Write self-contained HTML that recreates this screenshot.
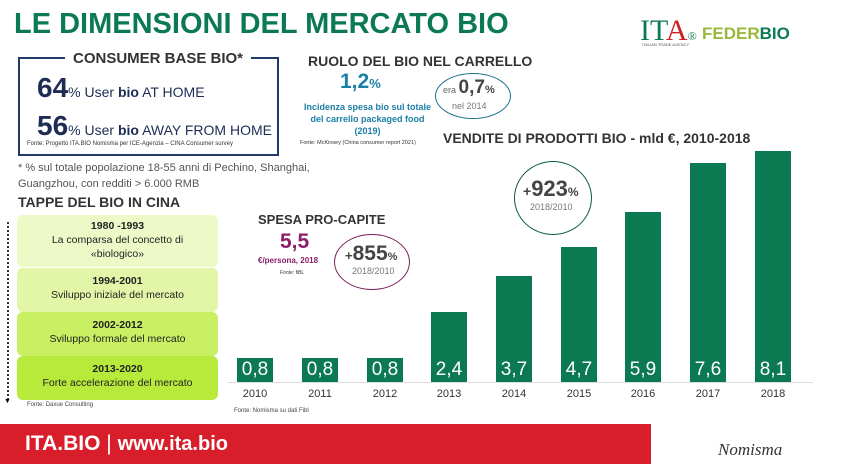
<!DOCTYPE html>
<html><head><meta charset="utf-8"><style>
body{margin:0;width:850px;height:469px;background:#fff;position:relative;overflow:hidden;font-family:"Liberation Sans",sans-serif}
.a{position:absolute;white-space:nowrap}
.bar{position:absolute;background:#0b7a52;width:36px;color:#fff;font-size:19px;text-align:center}
.bar div{position:absolute;bottom:0;width:36px;line-height:24px}
.yr{position:absolute;top:388px;width:36px;text-align:center;font-size:11px;color:#333}
.tb{position:absolute;left:17px;width:201px;border-radius:6px;text-align:center;font-size:10.5px;color:#222;line-height:14px}
</style></head><body>
<div class="a" style="left:14px;top:8px;font-size:29px;font-weight:bold;color:#0b7a52">LE DIMENSIONI DEL MERCATO BIO</div>
<div class="a" style="left:640px;top:14px;font-family:'Liberation Serif';font-size:30px;color:#0b7a52">IT<span style="color:#c22">A</span><span style="font-size:12px">®</span></div>
<div class="a" style="left:642px;top:42px;font-size:4px;color:#555">ITALIAN TRADE AGENCY</div>
<div class="a" style="left:702px;top:24px;font-size:17px;font-weight:bold;color:#9ab83a">FEDER<span style="color:#0b7a52">BIO</span></div>
<div class="a" style="left:18px;top:57px;width:257px;height:95px;border:2px solid #223a6a;"></div>
<div class="a" style="left:65px;top:50px;background:#fff;padding:0 8px;font-size:15px;font-weight:bold;color:#333">CONSUMER BASE BIO*</div>
<div class="a" style="left:37px;top:72px;color:#1f2d55;font-size:14px"><b style="font-size:28px">64</b>% User <b>bio</b> AT HOME</div>
<div class="a" style="left:37px;top:110px;color:#1f2d55;font-size:14px"><b style="font-size:28px">56</b>% User <b>bio</b> AWAY FROM HOME</div>
<div class="a" style="left:27px;top:141px;font-size:6px;color:#333">Fonte: Progetto ITA.BIO Nomisma per ICE-Agenzia – CINA Consumer survey</div>
<div class="a" style="left:18px;top:160px;font-size:11px;color:#555;line-height:16px">* % sul totale popolazione 18-55 anni di Pechino, Shanghai,<br>Guangzhou, con redditi &gt; 6.000 RMB</div>
<div class="a" style="left:18px;top:194px;font-size:14px;font-weight:bold;color:#333">TAPPE DEL BIO IN CINA</div>
<div class="a" style="left:7px;top:222px;height:178px;border-left:2px dotted #333"></div>
<div class="a" style="left:4px;top:398px;font-size:7px">▼</div>
<div class="tb" style="top:215px;height:48px;background:#eef9c8;padding-top:4px"><b>1980 -1993</b><br>La comparsa del concetto di<br>«biologico»</div>
<div class="tb" style="top:268px;height:38px;background:#e3f6a8;padding-top:6px"><b>1994-2001</b><br>Sviluppo iniziale del mercato</div>
<div class="tb" style="top:312px;height:38px;background:#c9ef62;padding-top:6px"><b>2002-2012</b><br>Sviluppo formale del mercato</div>
<div class="tb" style="top:356px;height:38px;background:#b8ea3c;padding-top:6px"><b>2013-2020</b><br>Forte accelerazione del mercato</div>
<div class="a" style="left:27px;top:402px;font-size:6px;color:#444">Fonte: Daxue Consulting</div>
<div class="a" style="left:308px;top:53px;font-size:14px;font-weight:bold;color:#333">RUOLO DEL BIO NEL CARRELLO</div>
<div class="a" style="left:340px;top:70px;font-size:21px;font-weight:bold;color:#1a7fa6">1,2<span style="font-size:13px">%</span></div>
<div class="a" style="left:300px;top:101px;width:135px;text-align:center;font-size:9px;font-weight:bold;color:#1a7fa6;line-height:12px;white-space:normal">Incidenza spesa bio sul totale del carrello packaged food (2019)</div>
<div class="a" style="left:300px;top:140px;font-size:5.5px;color:#333">Fonte: McKinsey (China consumer report 2021)</div>
<div class="a" style="left:435px;top:73px;width:74px;height:44px;border:1.5px solid #1a6f8a;border-radius:50%"></div>
<div class="a" style="left:443px;top:77px;font-size:9px;color:#666">era <b style="font-size:19px;color:#444">0,7</b><b style="font-size:11px;color:#444">%</b></div>
<div class="a" style="left:452px;top:101px;font-size:9px;color:#777">nel 2014</div>
<div class="a" style="left:443px;top:130px;font-size:14px;font-weight:bold;color:#333">VENDITE DI PRODOTTI BIO - mld €, 2010-2018</div>
<div class="a" style="left:514px;top:161px;width:76px;height:72px;border:1.5px solid #0b5d3e;border-radius:50%"></div>
<div class="a" style="left:523px;top:176px;font-size:22px;font-weight:bold;color:#444"><span style="font-size:14px">+</span>923<span style="font-size:12px">%</span></div>
<div class="a" style="left:530px;top:202px;font-size:9px;color:#777">2018/2010</div>
<div class="a" style="left:258px;top:212px;font-size:13px;font-weight:bold;color:#333">SPESA PRO-CAPITE</div>
<div class="a" style="left:280px;top:230px;font-size:21px;font-weight:bold;color:#8a1f6a">5,5</div>
<div class="a" style="left:258px;top:256px;font-size:8px;font-weight:bold;color:#8a1f6a">€/persona, 2018</div>
<div class="a" style="left:280px;top:270px;font-size:5px;color:#333">Fonte: fiBL</div>
<div class="a" style="left:334px;top:234px;width:74px;height:54px;border:1.5px solid #7a1f5a;border-radius:50%"></div>
<div class="a" style="left:345px;top:242px;font-size:21px;font-weight:bold;color:#444"><span style="font-size:13px">+</span>855<span style="font-size:11px">%</span></div>
<div class="a" style="left:352px;top:266px;font-size:9px;color:#777">2018/2010</div>
<div class="a" style="left:228px;top:382px;width:585px;border-top:1px solid #ddd"></div>
<div class="bar" style="left:237px;top:358px;height:24px"><div>0,8</div></div>
<div class="bar" style="left:302px;top:358px;height:24px"><div>0,8</div></div>
<div class="bar" style="left:367px;top:358px;height:24px"><div>0,8</div></div>
<div class="bar" style="left:431px;top:312px;height:70px"><div>2,4</div></div>
<div class="bar" style="left:496px;top:276px;height:106px"><div>3,7</div></div>
<div class="bar" style="left:561px;top:247px;height:135px"><div>4,7</div></div>
<div class="bar" style="left:625px;top:212px;height:170px"><div>5,9</div></div>
<div class="bar" style="left:690px;top:163px;height:219px"><div>7,6</div></div>
<div class="bar" style="left:755px;top:151px;height:231px"><div>8,1</div></div>
<div class="yr" style="left:237px">2010</div><div class="yr" style="left:302px">2011</div><div class="yr" style="left:367px">2012</div><div class="yr" style="left:431px">2013</div><div class="yr" style="left:496px">2014</div><div class="yr" style="left:561px">2015</div><div class="yr" style="left:625px">2016</div><div class="yr" style="left:690px">2017</div><div class="yr" style="left:755px">2018</div>
<div class="a" style="left:234px;top:408px;font-size:6px;color:#444">Fonte: Nomisma su dati Fibl</div>
<div class="a" style="left:0;top:424px;width:651px;height:40px;background:#d81e2a"></div>
<div class="a" style="left:25px;top:432px;font-size:21px;font-weight:bold;color:#fff">ITA.BIO <span style="font-weight:normal">|</span> <span style="font-size:20px">www.ita.bio</span></div>
<div class="a" style="left:718px;top:440px;font-family:'Liberation Serif';font-style:italic;font-size:17px;color:#333">Nomisma</div>
</body></html>
